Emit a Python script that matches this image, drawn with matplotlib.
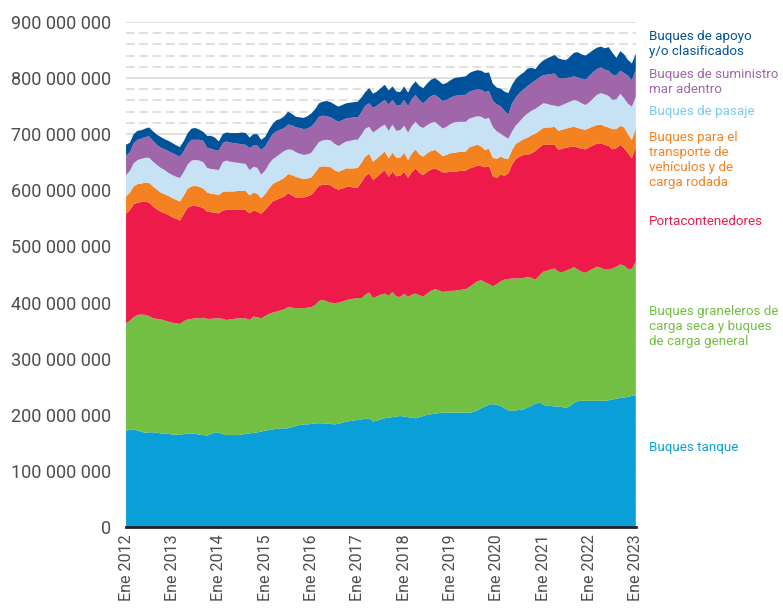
import numpy as np
import pandas as pd
import matplotlib
matplotlib.use("Agg")
import matplotlib.pyplot as plt
import matplotlib.transforms as mtransforms
from matplotlib.ticker import MultipleLocator, FuncFormatter

plt.rcParams['font.family'] = ['Roboto', 'DejaVu Sans']

# meses: enero 2012 .. enero 2023 (valores en millones de toneladas)
meses = pd.date_range("2012-01-01", "2023-01-01", freq="MS")

tanque = [172, 173, 174, 172, 170, 168, 169, 169, 168, 167, 167, 166,
          165, 165, 164, 166, 167, 167, 166, 165, 164, 163, 166, 169,
          168, 166, 164, 164, 164, 164, 165, 166, 167, 168, 169, 170,
          172, 173, 174, 175, 176, 176, 176, 178, 180, 182, 183, 183,
          184, 185, 185, 185, 184, 184, 183, 184, 186, 188, 189, 190,
          191, 192, 193, 194, 188, 190, 192, 194, 195, 196, 197, 198,
          197, 196, 195, 194, 196, 198, 200, 201, 202, 203, 204, 204,
          204, 204, 204, 204, 204, 204, 205, 208, 212, 215, 218, 219,
          218, 216, 212, 208, 207, 208, 209, 210, 213, 216, 220, 222,
          218, 216, 216, 215, 215, 214, 212, 216, 221, 225, 225, 225,
          225, 225, 225, 225, 225, 226, 227, 229, 230, 231, 232, 234,
          235]
graneleros = [191, 195, 200, 206, 209, 210, 207, 203, 203, 203, 201, 200,
              199, 198, 198, 201, 203, 204, 206, 207, 209, 208, 205, 203,
              204, 205, 205, 206, 207, 208, 207, 206, 202, 207, 205, 202,
              204, 207, 208, 209, 210, 212, 216, 213, 210, 208, 207, 208,
              208, 211, 218, 220, 218, 216, 216, 216, 216, 216, 217, 217,
              217, 216, 221, 224, 220, 221, 222, 222, 217, 223, 214, 212,
              219, 214, 219, 222, 217, 213, 216, 220, 222, 219, 215, 216,
              217, 217, 218, 219, 220, 224, 228, 230, 228, 221, 215, 210,
              215, 222, 229, 234, 236, 235, 234, 234, 233, 228, 221, 226,
              237, 241, 243, 246, 240, 240, 245, 244, 242, 234, 230, 228,
              232, 236, 239, 237, 234, 233, 234, 235, 238, 235, 228, 226,
              238]
portacontenedores = [195, 197, 201, 200, 200, 202, 202, 199, 195, 192, 191, 190,
                     188, 186, 184, 191, 199, 201, 200, 199, 195, 191, 190, 188,
                     187, 193, 196, 195, 194, 193, 193, 193, 190, 189, 188, 186,
                     189, 193, 198, 199, 200, 201, 203, 200, 197, 196, 197, 198,
                     200, 204, 205, 205, 208, 209, 205, 201, 201, 202, 200, 198,
                     197, 207, 211, 212, 210, 213, 216, 220, 212, 214, 214, 216,
                     217, 212, 218, 223, 218, 216, 217, 216, 215, 214, 213, 212,
                     212, 212, 212, 212, 211, 211, 208, 206, 203, 205, 210, 196,
                     189, 190, 185, 188, 203, 213, 217, 219, 217, 222, 229, 228,
                     226, 224, 222, 220, 217, 220, 219, 217, 215, 217, 219, 220,
                     220, 219, 219, 222, 222, 220, 212, 211, 213, 209, 206, 197,
                     205]
vehiculos = [31, 31, 32, 33, 33, 34, 35, 36, 35, 34, 34, 34,
             34, 34, 34, 33, 34, 35, 36, 35, 35, 34, 33, 33,
             33, 33, 33, 33, 33, 34, 34, 34, 32, 32, 32, 28,
             28, 30, 31, 32, 32, 33, 34, 36, 37, 36, 33, 32,
             31, 32, 33, 33, 32, 32, 32, 32, 33, 33, 33, 34,
             35, 35, 35, 35, 33, 33, 33, 33, 33, 34, 33, 32,
             34, 32, 33, 34, 33, 33, 33, 33, 33, 31, 29, 31,
             33, 34, 34, 34, 34, 38, 38, 37, 35, 31, 31, 33,
             34, 32, 31, 26, 26, 27, 27, 28, 31, 32, 31, 30,
             30, 31, 31, 32, 34, 34, 34, 35, 35, 35, 35, 35,
             34, 34, 33, 33, 33, 33, 36, 34, 34, 37, 34, 33,
             32]
pasaje = [38, 39, 41, 43, 44, 44, 45, 44, 44, 44, 43, 41,
          41, 41, 42, 42, 43, 46, 46, 47, 47, 44, 44, 44,
          44, 53, 55, 53, 52, 50, 49, 48, 45, 46, 46, 42,
          42, 44, 44, 45, 47, 48, 44, 45, 44, 43, 43, 43,
          44, 45, 45, 46, 48, 48, 47, 46, 47, 48, 49, 51,
          50, 50, 50, 48, 52, 51, 50, 48, 49, 50, 48, 49,
          48, 49, 49, 49, 50, 51, 50, 50, 50, 49, 49, 50,
          52, 54, 54, 53, 53, 51, 51, 51, 53, 55, 55, 55,
          49, 41, 39, 36, 33, 33, 36, 40, 43, 44, 44, 44,
          44, 42, 40, 38, 43, 44, 45, 46, 48, 48, 46, 44,
          46, 50, 54, 56, 57, 56, 52, 53, 57, 52, 54, 59,
          57]
suministro = [34, 33, 36, 36, 36, 37, 38, 37, 36, 36, 37, 39,
              39, 39, 38, 37, 37, 37, 36, 37, 38, 36, 36, 35,
              35, 34, 34, 34, 34, 34, 34, 34, 39, 38, 40, 44,
              43, 43, 45, 45, 43, 41, 44, 44, 44, 46, 46, 46,
              47, 45, 45, 44, 42, 41, 43, 43, 42, 41, 41, 40,
              40, 40, 41, 42, 44, 43, 43, 44, 47, 44, 46, 44,
              46, 47, 48, 48, 47, 44, 46, 48, 48, 49, 49, 48,
              47, 47, 47, 48, 48, 48, 48, 48, 48, 48, 48, 47,
              48, 49, 46, 43, 50, 50, 51, 49, 49, 49, 51, 51,
              50, 52, 55, 57, 51, 47, 45, 43, 42, 42, 44, 45,
              47, 47, 46, 46, 44, 45, 45, 43, 41, 45, 50, 47,
              48]
apoyo = [20, 17, 16, 16, 15, 15, 16, 17, 18, 19, 18, 18,
         18, 17, 17, 18, 19, 20, 21, 18, 16, 21, 23, 22,
         16, 16, 16, 17, 18, 19, 21, 21, 19, 20, 20, 18,
         17, 18, 18, 20, 19, 21, 23, 20, 19, 19, 20, 22,
         23, 23, 24, 25, 27, 27, 27, 27, 27, 27, 27, 27,
         28, 26, 24, 27, 25, 25, 26, 27, 25, 24, 24, 24,
         24, 24, 24, 24, 25, 27, 28, 29, 30, 30, 30, 30,
         31, 32, 32, 32, 33, 33, 34, 34, 34, 34, 33, 30,
         30, 31, 34, 38, 33, 33, 31, 30, 31, 27, 20, 24,
         26, 29, 31, 33, 35, 34, 32, 37, 42, 45, 43, 43,
         41, 39, 38, 37, 38, 42, 39, 31, 35, 33, 28, 30,
         28]

series = [tanque, graneleros, portacontenedores, vehiculos, pasaje, suministro, apoyo]
colores = ['#0a9fd9', '#72bf44', '#ed1a4a', '#f58220', '#c7e2f4', '#a066aa', '#00539b']
color_texto = ['#0a9fd9', '#72bf44', '#ed1a4a', '#f58220', '#7ccbee', '#a066aa', '#00539b']
etiquetas = ['Buques tanque',
             'Buques graneleros de\ncarga seca y buques\nde carga general',
             'Portacontenedores',
             'Buques para el\ntransporte de\nvehículos y de\ncarga rodada',
             'Buques de pasaje',
             'Buques de suministro\nmar adentro',
             'Buques de apoyo\ny/o clasificados']
pos_etiqueta = [141e6, 358e6, 545e6, 654e6, 740e6, 793e6, 860e6]

fig = plt.figure(figsize=(7.83, 6.08), dpi=100)
ax = fig.add_axes([0.161, 0.133, 0.651, 0.831])

datos = np.array(series, dtype=float) * 1e6
ax.stackplot(meses, datos, colors=colores, linewidth=0)

ax.set_xlim(meses[0], meses[-1])
ax.set_ylim(0, 900e6)

ax.yaxis.set_major_locator(MultipleLocator(100e6))
ax.yaxis.set_minor_locator(MultipleLocator(20e6))
ax.yaxis.set_major_formatter(FuncFormatter(lambda v, p: f"{int(round(v)):,}".replace(",", " ")))
ax.grid(axis='y', which='major', color='#d9d9d9', linewidth=1.2)
ax.grid(axis='y', which='minor', color='#d9d9d9', linewidth=1.2, linestyle=(0, (5, 3)))
ax.set_axisbelow(True)

xt = meses[::12]
ax.set_xticks(xt)
ax.set_xticklabels([f"Ene {d.year}" for d in xt], rotation=90)

ax.tick_params(axis='y', which='both', length=0, pad=11, labelsize=13, labelcolor='#4d4d4d')
ax.tick_params(axis='x', length=0, pad=5, labelsize=11.5, labelcolor='#4d4d4d')

for s in ['top', 'right', 'left']:
    ax.spines[s].set_visible(False)
ax.spines['bottom'].set_color('#222222')
ax.spines['bottom'].set_linewidth(2)
ax.spines['bottom'].set_zorder(5)

trans = mtransforms.blended_transform_factory(ax.transAxes, ax.transData)
for txt, yv, c in zip(etiquetas, pos_etiqueta, color_texto):
    ax.text(1.025, yv, txt, transform=trans, color=c, fontsize=9.6,
            va='center', ha='left', linespacing=1.2, clip_on=False)

fig.savefig("out.png", dpi=100)
